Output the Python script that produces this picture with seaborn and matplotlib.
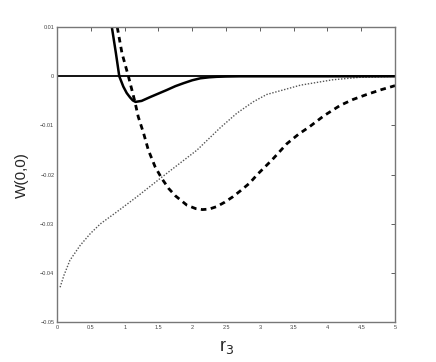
import numpy as np
import pandas as pd
import matplotlib
matplotlib.use("Agg")
import matplotlib.pyplot as plt
import seaborn as sns

# values
r_solid = [0.81, 0.87, 0.92, 0.98, 1.03, 1.08, 1.12, 1.16, 1.25, 1.38, 1.5, 1.62, 1.75,
           1.87, 2.0, 2.12, 2.25, 2.36, 2.5, 2.7, 3.0, 3.5, 4.0, 4.5, 5.0]
w_solid = [0.0100, 0.0047, 0.0, -0.0021, -0.0034, -0.0043, -0.0049, -0.0052, -0.0050,
           -0.0042, -0.0035, -0.0028, -0.0020, -0.0014, -0.0008, -0.0004, -0.0002,
           -0.0001, -0.00004, 0.0, 0.0, 0.0, 0.0, 0.0, 0.0]

r_dash = [0.89, 0.96, 1.055, 1.15, 1.2, 1.28, 1.35, 1.45, 1.55, 1.65, 1.75, 1.92, 2.05,
          2.15, 2.25, 2.36, 2.48, 2.6, 2.72, 2.85, 2.96, 3.18, 3.4, 3.57, 3.74, 3.95,
          4.19, 4.38, 4.58, 4.8, 5.0]
w_dash = [0.0100, 0.0047, 0.0, -0.0051, -0.0082, -0.0116, -0.0150, -0.0184, -0.0208,
          -0.0228, -0.0243, -0.0262, -0.0269, -0.0271, -0.0270, -0.0265, -0.0256,
          -0.0245, -0.0232, -0.0217, -0.0200, -0.0170, -0.0137, -0.0118, -0.0102,
          -0.0080, -0.0059, -0.0047, -0.0037, -0.0027, -0.0019]

r_dot = [0.044, 0.1, 0.19, 0.34, 0.49, 0.64, 0.88, 1.18, 1.55, 2.07, 2.41, 2.66, 2.9,
         3.1, 3.6, 4.08, 4.48, 5.0]
w_dot = [-0.0429, -0.0405, -0.0374, -0.0344, -0.0320, -0.0300, -0.0276, -0.0245,
         -0.0205, -0.0150, -0.0105, -0.0075, -0.0052, -0.0037, -0.0018, -0.0007,
         -0.0002, 0.0]

x_ticks = [0, 0.5, 1, 1.5, 2, 2.5, 3, 3.5, 4, 4.5, 5]
x_labels = ["0", "0.5", "1", "1.5", "2", "2.5", "3", "3.5", "4", "4.5", "5"]
y_ticks = [0.01, 0, -0.01, -0.02, -0.03, -0.04, -0.05]
y_labels = ["0.01", "0", "\u22120.01", "\u22120.02", "\u22120.03", "\u22120.04", "\u22120.05"]

sns.set_style("white")
plt.rcParams["font.family"] = ["Liberation Sans", "DejaVu Sans"]

fig = plt.figure(figsize=(4.36, 3.62), dpi=100)
ax = fig.add_axes([0.131, 0.110, 0.775, 0.815])

solid = pd.DataFrame({"r": r_solid, "w": w_solid})
dash = pd.DataFrame({"r": r_dash, "w": w_dash})
dot = pd.DataFrame({"r": r_dot, "w": w_dot})

ax.axhline(0, color="black", lw=1.3)
sns.lineplot(data=dot, x="r", y="w", ax=ax, color="#555555", lw=1.0,
             linestyle=(0, (1, 1.2)), sort=False)
sns.lineplot(data=dash, x="r", y="w", ax=ax, color="black", lw=2.0,
             linestyle=(0, (2, 1.6)), sort=False)
sns.lineplot(data=solid, x="r", y="w", ax=ax, color="black", lw=1.8, sort=False)

ax.set_xlim(0, 5)
ax.set_ylim(-0.05, 0.01)
ax.set_xticks(x_ticks)
ax.set_xticklabels(x_labels)
ax.set_yticks(y_ticks)
ax.set_yticklabels(y_labels)
ax.tick_params(direction="in", length=3, width=0.6, labelsize=4, colors="#444444",
               top=True, right=True, pad=2)
for sp in ax.spines.values():
    sp.set_color("#777777")
    sp.set_linewidth(1.0)

ax.set_xlabel("r$_3$", fontsize=13, labelpad=6)
ax.set_ylabel("W(0,0)", fontsize=11, labelpad=8)

fig.savefig("out.png", dpi=100)
